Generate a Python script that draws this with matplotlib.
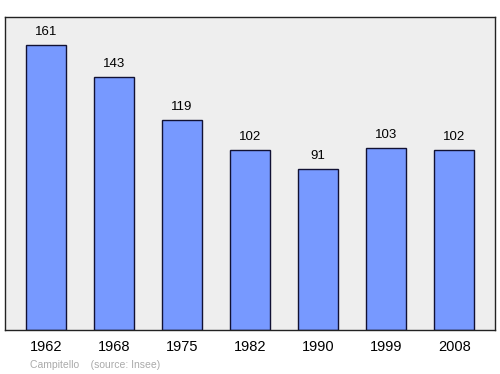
import matplotlib.pyplot as plt

years = ["1962", "1968", "1975", "1982", "1990", "1999", "2008"]
population = [161, 143, 119, 102, 91, 103, 102]
place = "Campitello"
source = "(source: Insee)"

plt.rcParams["font.family"] = ["Liberation Sans", "DejaVu Sans"]

fig = plt.figure(figsize=(5, 3.74), dpi=100)
ax = fig.add_axes([5 / 500, 1 - 330 / 374, 490 / 500, 313 / 374])
ax.set_facecolor("#eeeeee")

x = range(len(years))
ax.bar(x, population, width=0.58, color="#7799ff", edgecolor="#111133", linewidth=1)
for xi, v in zip(x, population):
    ax.annotate(str(v), (xi, v), xytext=(0, 5), textcoords="offset points",
                ha="center", va="bottom", fontsize=9.5)

ax.set_xlim(-0.6, 6.6)
ax.set_ylim(0, 177)
ax.set_yticks([])
ax.set_xticks(list(x))
ax.set_xticklabels(years, fontsize=10.5)
ax.tick_params(axis="x", length=0, pad=7)
for s in ax.spines.values():
    s.set_color("#222222")
    s.set_linewidth(1)

fig.text(30 / 500, 1 - 365 / 374, place + "    " + source, fontsize=7.5,
         color="#aaaaaa", va="center")

fig.savefig("out.png")
plt.close(fig)
